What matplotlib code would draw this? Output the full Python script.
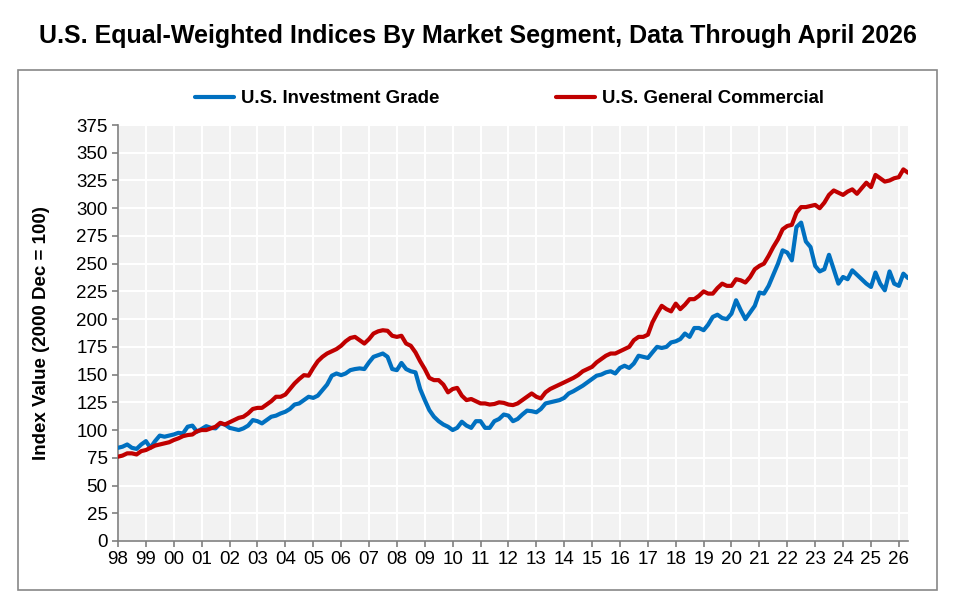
import numpy as np
import pandas as pd
import matplotlib
matplotlib.use("Agg")
import matplotlib.pyplot as plt
import matplotlib.dates as mdates
from matplotlib.patches import Rectangle

# bi-monthly readings (Jan, Mar, May, Jul, Sep, Nov), 1998 -> 2026
investment_grade = [
    84, 85, 87, 84, 83, 87,
    90, 84, 90, 95, 94, 95,
    96, 97.5, 97, 103, 104, 98.5,
    101, 103.5, 102, 101.5, 106, 105,
    102, 101, 100, 101.5, 104, 109,
    108, 106, 109, 112, 113, 115,
    116.5, 119, 123, 124, 127, 130,
    129, 131, 136, 141, 149, 151,
    149.5, 151, 154, 155, 155.6, 155,
    161, 166, 167.5, 169, 166, 155,
    154, 160.5, 155, 153, 152, 137,
    127, 118, 112, 108, 105, 103,
    100, 102, 107.5, 104, 102, 108,
    108, 102, 102, 108, 110, 114,
    113, 108, 110, 114, 117.5, 117,
    116, 119, 124, 125, 126, 127,
    129, 133, 135, 137.5, 140, 143,
    146, 149, 150, 152, 153, 151,
    156, 158, 156, 160, 167, 166,
    165, 170, 175, 174, 175, 179,
    180, 182, 187, 184, 192, 192,
    190, 195, 202, 204, 201, 200,
    205, 217, 208, 200, 206, 212,
    224, 223, 230, 240, 250, 262,
    260, 253, 283, 287, 270, 265,
    248, 243, 245, 258, 245, 232,
    238, 236, 244, 240, 236, 232,
    229, 242, 232, 226, 243, 232,
    230, 241, 237,
]

general_commercial = [
    76, 77, 79, 79, 78, 81,
    82, 84, 86, 87, 88, 89,
    91, 92.5, 94.5, 95.5, 96, 99,
    100, 100, 101.5, 103, 106.5, 105,
    107, 109, 111, 112, 115, 119,
    120, 120, 123, 126, 130, 130,
    132, 137, 142, 146, 149.5, 149,
    156, 162, 166, 169, 171, 173,
    176, 180, 183, 184, 181, 178,
    182, 187, 189, 190, 189.5, 185,
    184, 185, 178, 176, 170, 162,
    155, 147, 145, 145, 141, 134,
    137, 138, 131, 127, 128, 126,
    124, 124, 123, 123.5, 125, 124.5,
    123, 122.5, 124, 127, 130, 133,
    130, 128.5, 134, 137, 139, 141,
    143, 145, 147, 149.5, 153, 155,
    157, 161, 164, 167, 169, 169,
    171, 173, 175, 181, 184, 184,
    186, 197, 205, 212, 209, 207,
    214, 209, 213, 218, 218, 221,
    225, 223, 223, 228, 232, 230,
    230, 236, 235, 233, 238, 245,
    248, 250, 257, 265, 272, 281,
    284, 285, 296, 301, 301, 302,
    303, 300, 305, 312, 316, 314,
    312, 315, 317, 313, 318, 323,
    319, 330, 327, 324, 325, 327,
    328, 335, 332,
]

series_names = ["U.S. Investment Grade", "U.S. General Commercial"]
series_colors = ["#0070C0", "#C00000"]
title = "U.S. Equal-Weighted Indices By Market Segment, Data Through April 2026"
ylabel = "Index Value (2000 Dec = 100)"

dates = pd.date_range("1998-01-01", periods=len(investment_grade), freq="2MS")

plt.rcParams["font.family"] = ["Liberation Sans", "DejaVu Sans"]

fig = plt.figure(figsize=(9.55, 6.06), dpi=100)
ax = fig.add_axes([0.1236, 0.1073, 0.8272, 0.6864])
ax.set_facecolor("#F2F2F2")

for vals, name, col in zip([investment_grade, general_commercial], series_names, series_colors):
    ax.plot(dates, vals, color=col, lw=3.0, label=name, solid_capstyle="round", zorder=3)

ax.set_ylim(0, 375)
ax.set_yticks(np.arange(0, 376, 25))
ax.set_xlim(pd.Timestamp("1998-01-01"), pd.Timestamp("2026-05-01"))
ax.xaxis.set_major_locator(mdates.YearLocator())
ax.xaxis.set_major_formatter(mdates.DateFormatter("%y"))

ax.grid(True, color="white", lw=1.5, zorder=0)
ax.set_axisbelow(True)
for s in ["top", "right"]:
    ax.spines[s].set_visible(False)
for s in ["left", "bottom"]:
    ax.spines[s].set_color("#808080")
    ax.spines[s].set_linewidth(1.2)
ax.tick_params(axis="both", colors="#808080", labelcolor="black", labelsize=13.5,
               length=4, width=1.2, direction="out")

ax.set_ylabel(ylabel, fontsize=13.5, fontweight="bold", labelpad=19)

fig.text(0.5, 0.94, title, ha="center", va="center", fontsize=18, fontweight="bold")

ax.legend(loc="center", bbox_to_anchor=(0.5335, 0.837), bbox_transform=fig.transFigure,
          ncol=2, frameon=False, handlelength=2.1, handletextpad=0.38,
          columnspacing=6.3, prop={"weight": "bold", "size": 13.4})

fig.patches.append(Rectangle((0.0188, 0.0264), 0.962, 0.858, transform=fig.transFigure,
                             fill=False, edgecolor="#888888", lw=1.2))

fig.savefig("out.png", dpi=100)
